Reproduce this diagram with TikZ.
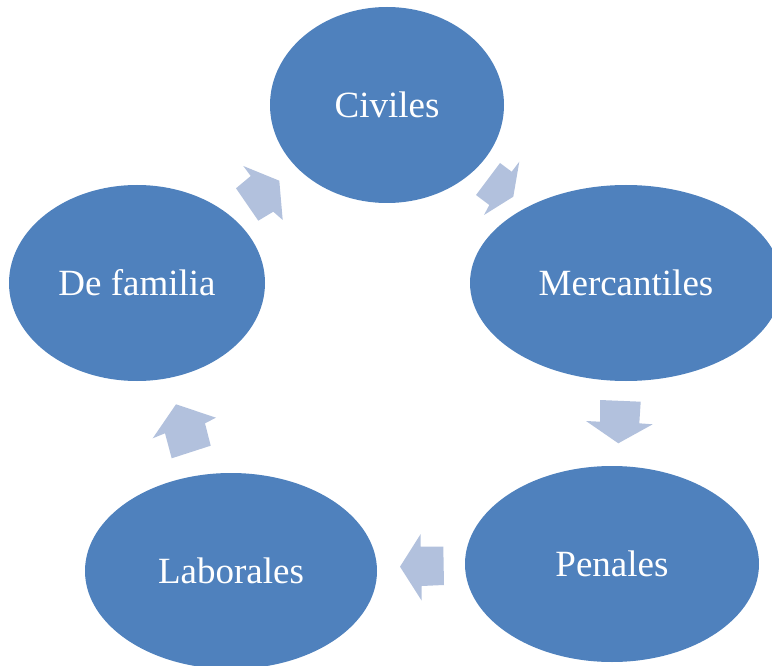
\documentclass[tikz,border=0pt]{standalone}
\usepackage{fontspec}
\setmainfont{Liberation Serif}
\usepackage{tikz}
\usetikzlibrary{shapes.geometric}

\definecolor{cycblue}{RGB}{79,129,189}
\definecolor{cyclight}{RGB}{178,193,221}

\tikzset{
    area/.style={ellipse, fill=cycblue, text=white, inner sep=0pt,
        font=\fontsize{37}{40}\selectfont},
    cycarrow/.style={fill=cyclight}
}

\begin{document}
\begin{tikzpicture}[x=1pt, y=-1pt]
        % Fix the frame of the picture
        \useasboundingbox (0,0) rectangle (772,666);

        % Draw the five areas of the cycle
        \node[area, minimum width=234pt, minimum height=196pt] (civ) at (387,105) {Civiles};
        \node[area, minimum width=312pt, minimum height=196pt] (mer) at (626,283) {Mercantiles};
        \node[area, minimum width=294pt, minimum height=196pt] (pen) at (612,564) {Penales};
        \node[area, minimum width=292pt, minimum height=196pt] (lab) at (231,571) {Laborales};
        \node[area, minimum width=256pt, minimum height=196pt] (fam) at (137,283) {De familia};

        % Draw the block arrows between the areas
        \fill[cycarrow] (500,163) -- (511.7,171.7) -- (519.3,161.7) -- (513.3,196.7)
            -- (484,215) -- (489.3,205) -- (476,195) -- cycle;
        \fill[cycarrow] (600,400) -- (640.7,401.7) -- (639.3,423.3) -- (652.7,424.3)
            -- (618.3,443.3) -- (586,421) -- (600,421.7) -- cycle;
        \fill[cycarrow] (443.3,546.7) -- (444,585) -- (421.7,586) -- (421.7,600.7)
            -- (400,566.7) -- (420.7,534) -- (420.7,546.7) -- cycle;
        \fill[cycarrow] (171.7,458.3) -- (210.7,445.7) -- (205,423.3) -- (216,417.7)
            -- (176,404.3) -- (152.7,438.3) -- (165,433.3) -- cycle;
        \fill[cycarrow] (236,188.3) -- (258.3,220.7) -- (273.3,211.7) -- (282.7,220)
            -- (279.3,180.7) -- (243.3,166) -- (250.7,176) -- cycle;
\end{tikzpicture}
\end{document}
